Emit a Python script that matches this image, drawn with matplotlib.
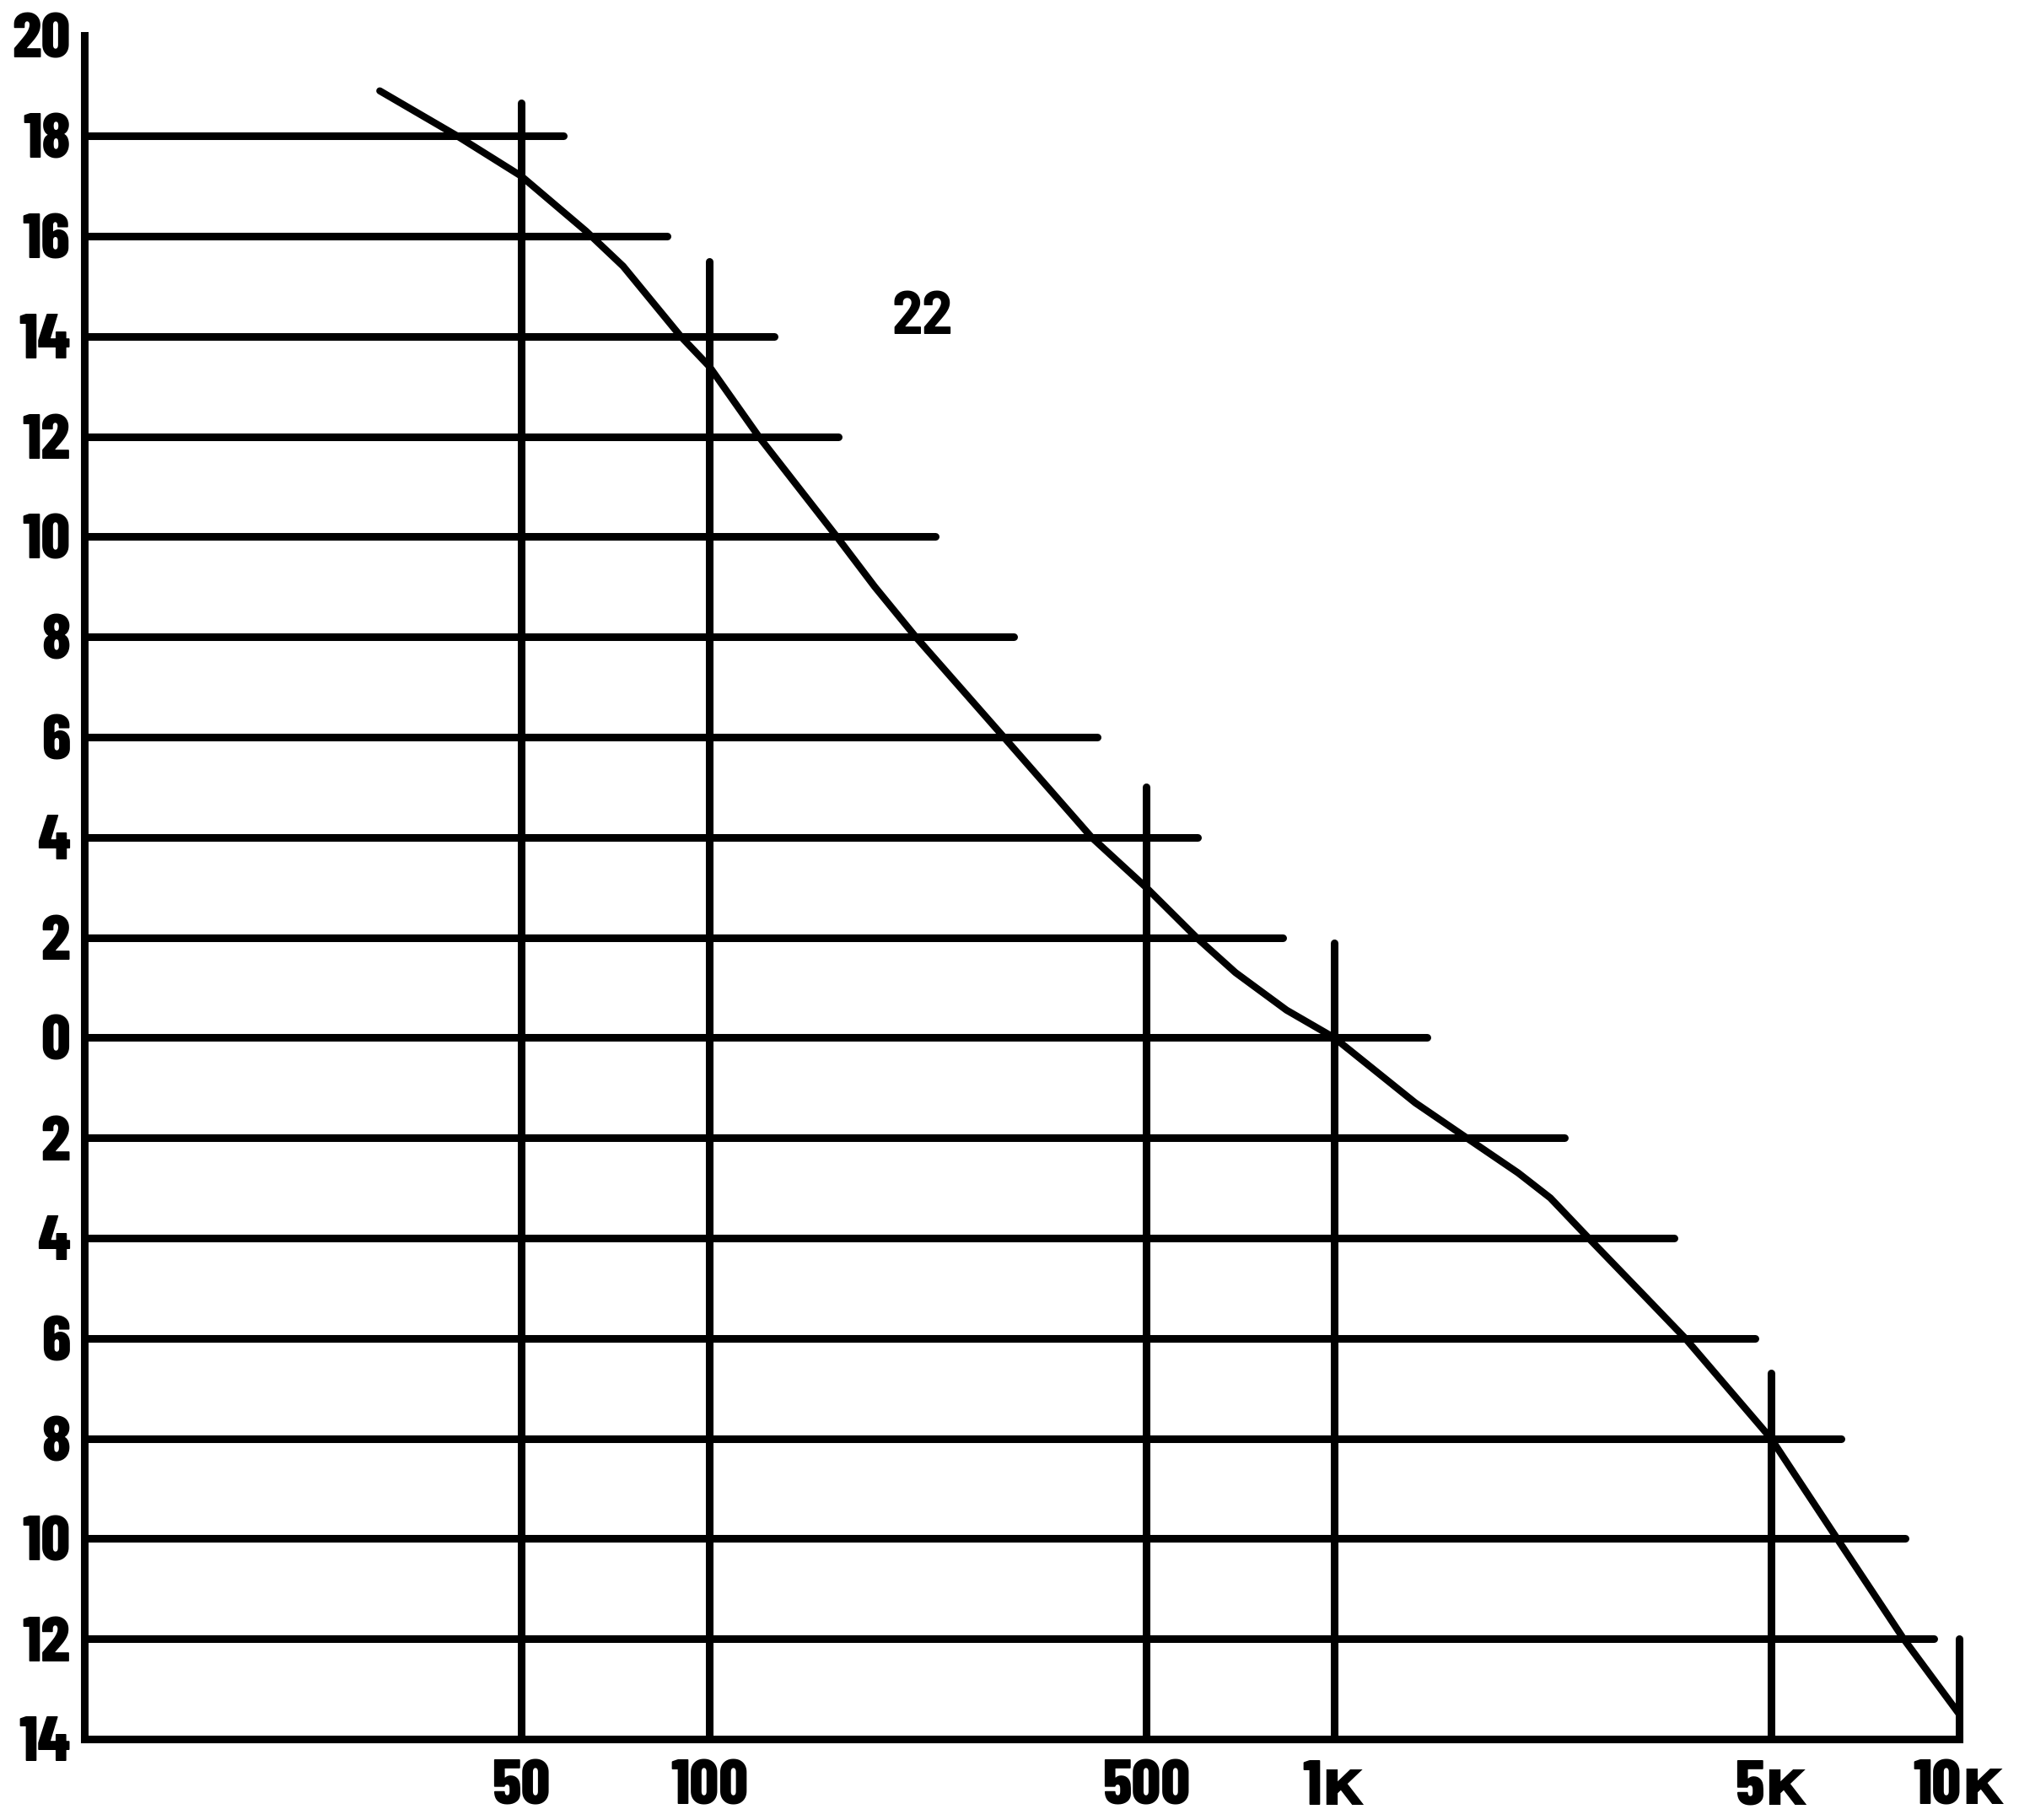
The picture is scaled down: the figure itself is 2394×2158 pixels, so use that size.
import numpy as np
import matplotlib
matplotlib.use("Agg")
import matplotlib.pyplot as plt
from matplotlib.ticker import FixedLocator, FuncFormatter

plt.rcParams['font.family'] = ['Barlow Condensed', 'DejaVu Sans Condensed', 'DejaVu Sans']
plt.rcParams['font.weight'] = 'heavy'

# response curve (Hz, dB)
freq = [29.7, 39.5, 50, 63.5, 72.8, 90, 100, 120, 160, 184, 214, 296, 409,
        500, 602, 695, 839, 1000, 1348, 1629, 1970, 2218, 2553, 3162, 3645,
        4202, 5000, 6380, 8150, 10000]
level = [18.9, 18.0, 17.2, 16.1, 15.4, 14.0, 13.4, 12.0, 10.0, 9.0, 8.0, 6.0,
         4.0, 3.0, 2.0, 1.3, 0.55, 0.0, -1.3, -2.0, -2.7, -3.2, -4.0, -5.2,
         -6.0, -6.9, -8.0, -10.0, -12.0, -13.5]

# horizontal grid lines: level and where each one stops on the right
grid_db = [18, 16, 14, 12, 10, 8, 6, 4, 2, 0, -2, -4, -6, -8, -10, -12]
grid_end = [58.5, 85.5, 127, 161, 230, 307, 418, 605, 827, 1406, 2336,
            3493, 4709, 6469, 8200, 9100]

# vertical lines: frequency and height
vert_f = [50, 100, 500, 1000, 5000, 10000]
vert_top = [18.66, 15.5, 5.0, 1.9, -6.7, -12.0]
vert_lab = ['50', '100', '500', '1к', '5к', '10к']

y_ticks = list(range(-14, 21, 2))

fig = plt.figure(figsize=(23.94, 21.58), dpi=100)
ax = fig.add_axes([0.04177, 0.04449, 0.92857, 0.93587])
ax.set_xscale('log')
ax.set_xlim(10, 10000)
ax.set_ylim(-14, 20)

lw = 6.5
ax.hlines(grid_db, 10, grid_end, colors='black', linewidth=lw,
          capstyle='round', clip_on=False)
ax.vlines(vert_f, -14, vert_top, colors='black', linewidth=lw,
          capstyle='round', clip_on=False)
ax.plot(freq, level, color='black', linewidth=6,
        solid_capstyle='round', solid_joinstyle='round', clip_on=False)

for s in ['top', 'right']:
    ax.spines[s].set_visible(False)
for s in ['left', 'bottom']:
    ax.spines[s].set_linewidth(lw)

ax.xaxis.set_major_locator(FixedLocator(vert_f))
ax.xaxis.set_minor_locator(FixedLocator([]))
ax.set_xticklabels(vert_lab)
ax.yaxis.set_major_locator(FixedLocator(y_ticks))
ax.yaxis.set_major_formatter(FuncFormatter(lambda v, p: '%d' % abs(v)))
ax.tick_params(axis='both', length=0, labelsize=55)
ax.tick_params(axis='x', pad=18)
ax.tick_params(axis='y', pad=12)

fig.text(0.457, 0.8253, '22', fontsize=52, ha='center', va='center',
         weight='bold', family=['Barlow Semi Condensed', 'DejaVu Sans'])

fig.savefig('out.png', dpi=100, facecolor='white')
